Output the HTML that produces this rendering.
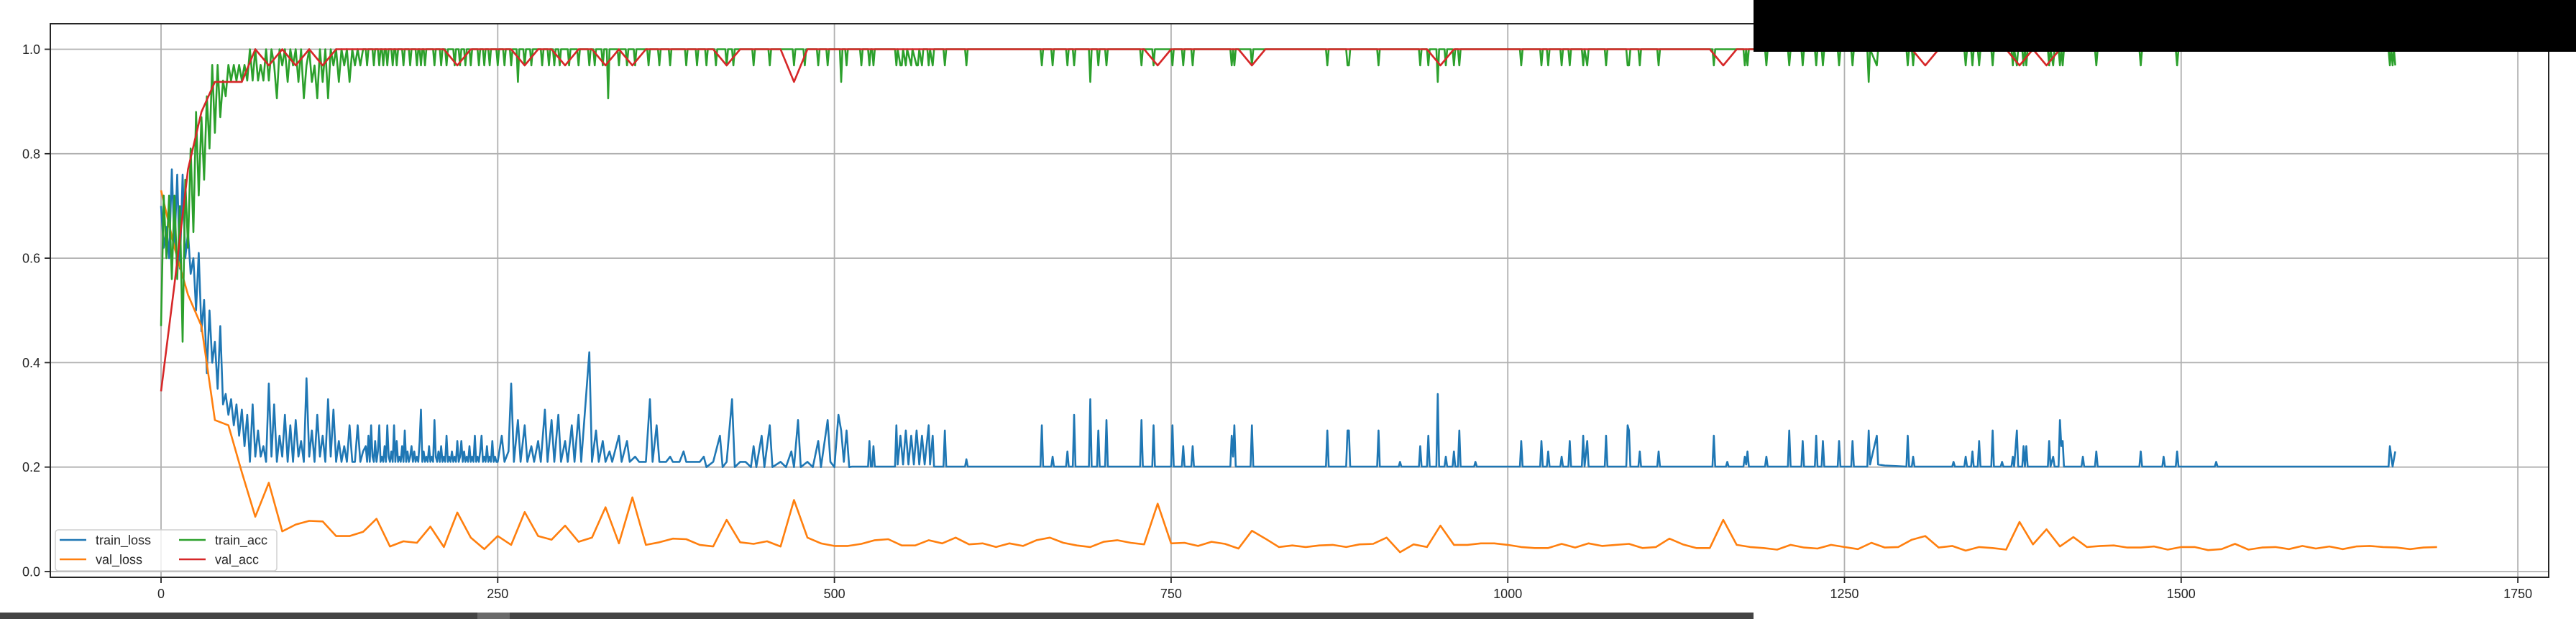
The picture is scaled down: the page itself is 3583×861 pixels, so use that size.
<!DOCTYPE html>
<html><head><meta charset="utf-8">
<style>
html,body{margin:0;padding:0;background:#fff;}
svg{display:block;}
text{font-family:"Liberation Sans","DejaVu Sans",sans-serif;fill:#262626;}
</style></head>
<body>
<svg id="chart" width="3583" height="861" viewBox="0 0 3583 861" xmlns="http://www.w3.org/2000/svg">
<rect x="0" y="0" width="3583" height="861" fill="#fff"/>
<g id="grid"></g>
<g id="series"></g>
<g id="axes"></g>
<g id="legend"></g>
<rect x="2439" y="0" width="1144" height="72" fill="#000"/>
<rect x="0" y="852" width="2439" height="9" fill="#444"/>
<rect x="664" y="852" width="45" height="9" fill="#6a6a6a"/>
</svg>
<script>
const xTicks = [0, 250, 500, 750, 1000, 1250, 1500, 1750];
const yTicks = [0.0, 0.2, 0.4, 0.6, 0.8, 1.0];
const yTickLabels = ["0.0", "0.2", "0.4", "0.6", "0.8", "1.0"];
const seriesNames = ["train_loss", "val_loss", "train_acc", "val_acc"];
const valStepSize = 10;

const trainLoss = [
[0,.70],[2,.62],[4,.66],[6,.60],[8,.77],[10,.62],[12,.76],[14,.58],[16,.76],[18,.60],[20,.65],[22,.57],[24,.60],[26,.50],[28,.61],[30,.46],[32,.52],[34,.38],[36,.50],[38,.40],[40,.44],[42,.35],[44,.47],[46,.32],[48,.34],[50,.30],[52,.33],[54,.28],[56,.32],[58,.26],[60,.31],[62,.24],[64,.30],[66,.21],[68,.32],[70,.22],[72,.27],[74,.22],[76,.24],[78,.21],[80,.36],[82,.22],[84,.32],[86,.21],[88,.26],[90,.22],[92,.30],[94,.21],[96,.28],[98,.21],[100,.29],[102,.22],[104,.25],[106,.21],[108,.37],[110,.22],[112,.27],[114,.21],[116,.30],[118,.22],[120,.26],[122,.21],[124,.33],[126,.22],[128,.31],[130,.21],[132,.25],[134,.21],[136,.24],[138,.21],[140,.28],[142,.21],[144,.21],[146,.28],[148,.21],[150,.23],
[152,.24],[153,.21],[154,.26],[155,.21],[156,.28],[157,.22],[158,.21],[159,.25],[160,.21],[161,.23],[162,.28],[163,.21],[164,.22],[165,.21],[166,.24],[167,.21],[168,.28],[169,.22],[170,.21],[171,.23],[172,.21],[173,.28],[174,.21],[175,.25],[176,.21],[177,.22],[178,.21],[179,.24],[180,.21],[181,.27],[182,.21],[183,.23],[184,.21],[185,.22],[186,.24],[187,.21],[188,.23],[189,.21],[190,.22],[191,.21],[192,.25],[193,.31],[194,.21],[195,.23],[196,.21],[197,.22],[198,.21],[199,.24],[200,.21],[201,.22],[202,.21],[203,.29],[204,.22],[205,.21],[206,.23],[207,.21],[208,.24],[209,.21],[210,.22],[211,.21],[212,.26],[213,.21],[214,.22],[215,.21],[216,.23],[217,.21],[218,.22],[219,.21],[220,.25],[221,.21],[222,.22],[223,.25],[224,.21],[225,.23],[226,.21],[227,.22],[228,.21],[229,.24],[230,.21],[231,.22],[232,.21],[233,.26],[234,.21],[235,.22],[236,.21],[237,.23],[238,.26],[239,.21],[240,.22],[241,.21],[242,.24],[243,.21],[244,.22],[245,.21],[246,.25],[247,.21],[248,.22],[249,.21],[250,.21],
[253,.26],[255,.21],[258,.23],[260,.36],[262,.21],[265,.29],[267,.21],[270,.28],[272,.21],[275,.24],[277,.21],[280,.25],[282,.21],[285,.31],[287,.21],[290,.29],[292,.21],[295,.30],[297,.21],[300,.25],[302,.21],[305,.28],[307,.21],[310,.30],[312,.21],[318,.42],[320,.21],[323,.27],[325,.21],[328,.25],[330,.21],[333,.23],[335,.21],[340,.26],[342,.21],[346,.25],[348,.21],[352,.22],[355,.21],[360,.21],[363,.33],[365,.21],[368,.28],[370,.21],[375,.21],[378,.22],[380,.21],[385,.21],[388,.23],[390,.21],[395,.21],[400,.21],[403,.22],[405,.20],[410,.21],[415,.26],[417,.20],[420,.21],[424,.33],[426,.20],[430,.21],[434,.21],[438,.20],[440,.24],[442,.20],[446,.26],[448,.20],[452,.28],[454,.20],[460,.21],[464,.20],[468,.23],[470,.20],[473,.29],[475,.20],[480,.21],[484,.20],[488,.25],[490,.20],[495,.29],[497,.21],[500,.20],[503,.30],[505,.27],[507,.21],[509,.27],[511,.20],
[513,.201],[525,.201],[526,.25],[527,.201],[528,.201],[529,.24],[530,.201],[545,.201],[546,.28],[547,.205],[549,.26],[551,.205],[553,.27],[555,.205],[557,.26],[559,.205],[561,.27],[563,.205],[565,.26],[567,.205],[570,.28],[571,.205],[573,.26],[574,.201],[581,.201],[582,.27],[583,.201],[597,.201],[598,.215],[599,.201],[653,.201],[654,.28],[655,.201],[661,.201],[662,.22],[663,.201],[672,.201],[673,.23],[674,.201],[677,.201],[678,.30],[679,.201],[689,.201],[690,.33],[691,.201],[695,.201],[696,.27],[697,.201],[701,.201],[702,.29],[703,.201],[727,.201],[728,.29],[729,.201],[736,.201],[737,.28],[738,.201],[750,.201],[751,.28],[752,.201],[758,.201],[759,.24],[760,.201],[765,.201],[766,.24],[767,.201],[794,.201],[795,.26],[796,.22],[797,.28],[798,.201],[809,.201],[810,.28],[811,.201],[865,.201],[866,.27],[867,.201],[880,.201],[881,.27],[882,.27],[883,.201],[903,.201],[904,.27],[905,.201],[919,.201],[920,.21],[921,.201],[934,.201],[935,.24],[936,.201],[940,.201],[941,.26],[942,.201],[947,.201],[948,.34],[949,.201],[953,.201],[954,.22],[955,.201],[959,.201],[960,.23],[961,.201],[963,.201],[964,.27],[965,.201],[975,.201],[976,.21],[977,.201],[1009,.201],[1010,.25],[1011,.201],[1024,.201],[1025,.25],[1026,.201],[1029,.201],[1030,.23],[1031,.201],[1039,.201],[1040,.22],[1041,.201],[1045,.201],[1046,.25],[1047,.201],[1055,.201],[1056,.26],[1057,.201],[1059,.25],[1060,.201],[1072,.201],[1073,.26],[1074,.201],[1088,.201],[1089,.28],[1090,.27],[1091,.201],[1097,.201],[1098,.23],[1099,.201],[1111,.201],[1112,.23],[1113,.201],[1152,.201],[1153,.26],[1154,.201],[1162,.201],[1163,.21],[1164,.201],[1175,.201],[1176,.22],[1177,.205],[1178,.23],[1179,.201],[1191,.201],[1192,.22],[1193,.201],[1208,.201],[1209,.27],[1210,.201],[1218,.201],[1219,.25],[1220,.201],[1228,.201],[1229,.26],[1230,.201],[1233,.201],[1234,.25],[1235,.201],[1245,.201],[1246,.25],[1247,.201],[1255,.201],[1256,.25],[1257,.201],[1267,.201],[1268,.27],[1269,.205],[1274,.26],[1275,.205],[1280,.203],[1296,.201],[1297,.26],[1298,.201],[1300,.201],[1301,.22],[1302,.201],[1330,.201],[1331,.21],[1332,.201],[1339,.201],[1340,.22],[1341,.201],[1344,.201],[1345,.23],[1346,.201],[1349,.201],[1350,.25],[1351,.201],[1359,.201],[1360,.27],[1361,.201],[1366,.201],[1367,.21],[1368,.201],[1374,.201],[1375,.22],[1376,.201],[1378,.27],[1379,.201],[1382,.201],[1383,.24],[1384,.201],[1385,.24],[1386,.201],[1401,.201],[1402,.25],[1403,.201],[1405,.22],[1406,.201],[1409,.201],[1410,.29],[1411,.24],[1412,.25],[1413,.201],[1426,.201],[1427,.22],[1428,.201],[1436,.201],[1437,.23],[1438,.201],[1469,.201],[1470,.23],[1471,.201],[1486,.201],[1487,.22],[1488,.201],[1496,.201],[1497,.23],[1498,.201],[1525,.201],[1526,.21],[1527,.201],[1654,.201],[1655,.24],[1657,.201],[1659,.23]
];

const trainAcc = [
[0,.47],[2,.72],[4,.60],[6,.72],[8,.56],[10,.72],[12,.56],[14,.70],[16,.44],[18,.75],[20,.62],[22,.81],[24,.65],[26,.88],[28,.72],[30,.87],[32,.75],[34,.91],[36,.81],[38,.97],[40,.84],[42,.97],[44,.87],[46,.94],[48,.91],[50,.97],[52,.94],[54,.97],[56,.94],[58,.97],[60,.94],[62,.97],[64,.94],[66,1],[68,.94],[70,1],[72,.94],[74,.97],[76,.94],[78,1],[80,.94],[82,1],[84,.97],[86,.906],[88,1],[90,.969],[92,1],[94,.9375],[96,1],[98,.969],[100,1],[102,.9375],[104,1],[106,.906],[108,.969],[110,1],[112,.9375],[114,.969],[116,.906],[118,1],[120,.9375],[122,1],[124,.906],[126,1],[128,.969],[130,1],[132,.9375],[134,1],[136,.969],[138,1],[140,.9375],[142,1],[144,.969],[146,1],[148,.969],[150,1],
[152,1],[153,.969],[154,1],[157,1],[158,.969],[159,1],[161,1],[162,.969],[163,1],[164,1],[165,.969],[166,1],[167,1],[168,.969],[169,1],[171,1],[172,.969],[173,1],[174,1],[175,.969],[176,1],[179,1],[180,.969],[181,1],[184,1],[185,.969],[186,1],[189,1],[190,.969],[191,1],[192,1],[193,.969],[194,1],[195,1],[196,.969],[197,1],[202,1],[203,.969],[204,1],[207,1],[208,.969],[209,1],[211,1],[212,.969],[213,1],[217,1],[218,.969],[219,1],[221,1],[222,.969],[223,1],[225,1],[226,.969],[227,1],[229,1],[230,.969],[231,1],[235,1],[236,.969],[237,1],[239,1],[240,.969],[241,1],[243,1],[244,.969],[245,1],[249,1],[250,.969],[251,1],[254,1],[255,.969],[256,1],[259,1],[260,.969],[261,1],[264,1],[265,.9375],[266,1],[269,1],[270,.969],[271,1],[274,1],[275,.969],[276,1],[282,1],[283,.969],[284,1],[287,1],[288,.969],[289,1],[291,1],[292,.969],[293,1],[295,1],[296,.969],[297,1],[302,1],[303,.969],[304,1],[309,1],[310,.969],[311,1],[317,1],[318,.969],[319,1],[321,1],[322,.969],[323,1],[327,1],[328,.969],[329,1],[331,1],[332,.906],[333,1],[339,1],[340,.969],[341,1],[345,1],[346,.969],[347,1],[351,1],[352,.969],[353,1],[361,1],[362,.969],[363,1],[369,1],[370,.969],[371,1],[377,1],[378,.969],[379,1],[389,1],[390,.969],[391,1],[397,1],[398,.969],[399,1],[404,1],[405,.969],[406,1],[411,1],[412,.969],[413,1],[419,1],[420,.969],[421,1],[424,1],[425,.969],[426,1],[439,1],[440,.969],[441,1],[451,1],[452,.969],[453,1],[469,1],[470,.969],[471,1],[477,1],[478,.969],[479,1],[487,1],[488,.969],[489,1],[494,1],[495,.969],[496,1],[504,1],[505,.9375],[506,1],[508,1],[509,.969],[510,1],[519,1],[520,.969],[521,1],[525,1],[526,.969],[527,1],[528,1],[529,.969],[530,1],[545,1],[546,.969],[547,1],[549,.969],[550,.969],[551,1],[553,.969],[554,1],[557,.969],[558,1],[561,.969],[562,.969],[563,1],[565,.969],[566,1],[569,1],[570,.969],[571,1],[573,.969],[574,1],[581,1],[582,.969],[583,1],[597,1],[598,.969],[599,1],[653,1],[654,.969],[655,1],[661,1],[662,.969],[663,1],[672,1],[673,.969],[674,1],[677,1],[678,.969],[679,1],[689,1],[690,.9375],[691,1],[695,1],[696,.969],[697,1],[701,1],[702,.969],[703,1],[727,1],[728,.969],[729,1],[736,1],[737,.969],[738,1],[750,1],[751,.969],[752,1],[758,1],[759,.969],[760,1],[765,1],[766,.969],[767,1],[794,1],[795,.969],[796,1],[797,.969],[798,1],[809,1],[810,.969],[811,1],[865,1],[866,.969],[867,1],[880,1],[881,.969],[882,.969],[883,1],[903,1],[904,.969],[905,1],[934,1],[935,.969],[936,1],[940,1],[941,.969],[942,1],[947,1],[948,.9375],[949,1],[953,1],[954,.969],[955,1],[959,1],[960,.969],[961,1],[963,1],[964,.969],[965,1],[1009,1],[1010,.969],[1011,1],[1024,1],[1025,.969],[1026,1],[1029,1],[1030,.969],[1031,1],[1039,1],[1040,.969],[1041,1],[1045,1],[1046,.969],[1047,1],[1055,1],[1056,.969],[1057,1],[1059,.969],[1060,1],[1072,1],[1073,.969],[1074,1],[1088,1],[1089,.969],[1090,.969],[1091,1],[1097,1],[1098,.969],[1099,1],[1111,1],[1112,.969],[1113,1],[1152,1],[1153,.969],[1154,1],[1175,1],[1176,.969],[1177,1],[1178,.969],[1179,1],[1191,1],[1192,.969],[1193,1],[1208,1],[1209,.969],[1210,1],[1218,1],[1219,.969],[1220,1],[1228,1],[1229,.969],[1230,1],[1233,1],[1234,.969],[1235,1],[1245,1],[1246,.969],[1247,1],[1255,1],[1256,.969],[1257,1],[1267,1],[1268,.9375],[1269,1],[1274,.969],[1275,1],[1296,1],[1297,.969],[1298,1],[1300,1],[1301,.969],[1302,1],[1339,1],[1340,.969],[1341,1],[1344,1],[1345,.969],[1346,1],[1349,1],[1350,.969],[1351,1],[1359,1],[1360,.969],[1361,1],[1374,1],[1375,.969],[1376,1],[1378,.969],[1379,1],[1382,1],[1383,.969],[1384,1],[1385,.969],[1386,1],[1401,1],[1402,.969],[1403,1],[1405,.969],[1406,1],[1409,1],[1410,.969],[1411,1],[1412,.969],[1413,1],[1436,1],[1437,.969],[1438,1],[1469,1],[1470,.969],[1471,1],[1496,1],[1497,.969],[1498,1],[1654,1],[1655,.969],[1656,1],[1657,.969],[1658,1],[1659,.969]
];

const valLoss = [
.73,.62,.53,.47,.29,.28,.19,.105,.17,.077,
.09,.097,.096,.068,.068,.076,.101,.048,.058,.055,
.086,.047,.113,.065,.043,.068,.051,.114,.068,.061,
.088,.057,.065,.123,.054,.142,.051,.056,.063,.062,
.051,.048,.099,.056,.053,.058,.048,.137,.065,.054,
.049,.049,.053,.060,.062,.050,.050,.060,.054,.065,
.052,.054,.047,.054,.049,.060,.065,.055,.050,.047,
.057,.060,.055,.052,.130,.054,.055,.049,.057,.053,
.044,.078,.063,.047,.050,.047,.050,.051,.047,.052,
.053,.065,.037,.052,.047,.088,.051,.051,.054,.054,
.051,.047,.045,.045,.053,.046,.054,.049,.051,.053,
.045,.047,.063,.052,.045,.045,.099,.051,.047,.045,
.042,.051,.046,.044,.051,.047,.043,.055,.046,.047,
.061,.068,.046,.049,.040,.047,.045,.042,.095,.052,
.081,.048,.066,.047,.049,.050,.046,.046,.048,.042,
.047,.047,.041,.043,.053,.042,.046,.047,.043,.049,
.044,.048,.043,.048,.049,.047,.046,.043,.046,.047
];

const valAcc = [
.345,.55,.77,.88,.9375,.9375,.9375,1,.969,1,
.969,1,.969,1,1,1,1,1,1,1,
1,1,.969,1,1,1,1,.969,1,1,
.969,1,1,.969,1,.969,1,1,1,1,
1,1,.969,1,1,1,1,.9375,1,1,
1,1,1,1,1,1,1,1,1,1,
1,1,1,1,1,1,1,1,1,1,
1,1,1,1,.969,1,1,1,1,1,
1,.969,1,1,1,1,1,1,1,1,
1,1,1,1,1,.969,1,1,1,1,
1,1,1,1,1,1,1,1,1,1,
1,1,1,1,1,1,.969,1,1,1,
1,1,1,1,1,1,1,1,1,1,
1,.969,1,1,1,1,1,1,.969,1,
.969,1,1,1,1,1,1,1,1,1,
1,1,1,1,1,1,1,1,1,1,
1,1,1,1,1,1,1,1,1,1
];

const NS = "http://www.w3.org/2000/svg";
const plot = {left: 70, right: 3545, top: 33, bottom: 803};
const X0 = 224, XPER = 468.3 / 250;
const Y0 = 795, YPER = 726.5;
function xScale(v) { return X0 + v * XPER; }
function yScale(v) { return Y0 - v * YPER; }
function mk(tag, attrs, parent) {
  const el = document.createElementNS(NS, tag);
  for (const k in attrs) el.setAttribute(k, attrs[k]);
  parent.appendChild(el);
  return el;
}
const grid = document.getElementById('grid');
const axes = document.getElementById('axes');
const series = document.getElementById('series');
const legend = document.getElementById('legend');

xTicks.forEach(t => {
  const x = xScale(t);
  const gl = mk('line', {x1: x, x2: x, y1: plot.top, y2: plot.bottom, stroke: '#b0b0b0', 'stroke-width': 1.8}, grid);
  
  
  const tk = mk('line', {x1: x, x2: x, y1: plot.bottom, y2: plot.bottom + 8, stroke: '#262626', 'stroke-width': 1.8}, axes);
  
  
  const lb = mk('text', {x: x, y: plot.bottom + 29, 'text-anchor': 'middle', 'font-size': 18}, axes);
  lb.textContent = String(t);
  
  
});
yTicks.forEach((t, i) => {
  const y = yScale(t);
  const gl = mk('line', {x1: plot.left, x2: plot.right, y1: y, y2: y, stroke: '#b0b0b0', 'stroke-width': 1.8}, grid);
  
  
  const tk = mk('line', {x1: plot.left - 8, x2: plot.left, y1: y, y2: y, stroke: '#262626', 'stroke-width': 1.8}, axes);
  
  
  const lb = mk('text', {x: plot.left - 14, y: y + 6.5, 'text-anchor': 'end', 'font-size': 18}, axes);
  lb.textContent = yTickLabels[i];
  
  
});
const frame = mk('rect', {x: plot.left, y: plot.top, width: plot.right - plot.left, height: plot.bottom - plot.top, fill: 'none', stroke: '#262626', 'stroke-width': 2}, axes);



function pathFromPairs(pairs) {
  return pairs.map((p, i) => (i ? 'L' : 'M') + xScale(p[0]).toFixed(1) + ' ' + yScale(p[1]).toFixed(1)).join(' ');
}
function pathFromVals(vals) {
  return vals.map((v, i) => (i ? 'L' : 'M') + xScale(i * valStepSize).toFixed(1) + ' ' + yScale(v).toFixed(1)).join(' ');
}
const colors = ['#1f77b4', '#ff7f0e', '#2ca02c', '#d62728'];
const paths = [pathFromPairs(trainLoss), pathFromVals(valLoss), pathFromPairs(trainAcc), pathFromVals(valAcc)];
paths.forEach((d, i) => {
  const p = mk('path', {d: d, fill: 'none', stroke: colors[i], 'stroke-width': 2.6, 'stroke-linejoin': 'round'}, series);
  
  
});

const lbox = mk('rect', {x: 77, y: 737, width: 308, height: 57, rx: 4, fill: '#fff', 'fill-opacity': 0.8, stroke: '#d0d0d0', 'stroke-width': 1.5}, legend);


const legPos = [[83, 751], [83, 778], [249, 751], [249, 778]];
seriesNames.forEach((n, i) => {
  const [lx, ly] = legPos[i];
  const ln = mk('line', {x1: lx, x2: lx + 37, y1: ly, y2: ly, stroke: colors[i], 'stroke-width': 2.6}, legend);
  
  
  const tx = mk('text', {x: lx + 50, y: ly + 6.5, 'font-size': 18}, legend);
  tx.textContent = n;
  
  
});
</script>
</body></html>
